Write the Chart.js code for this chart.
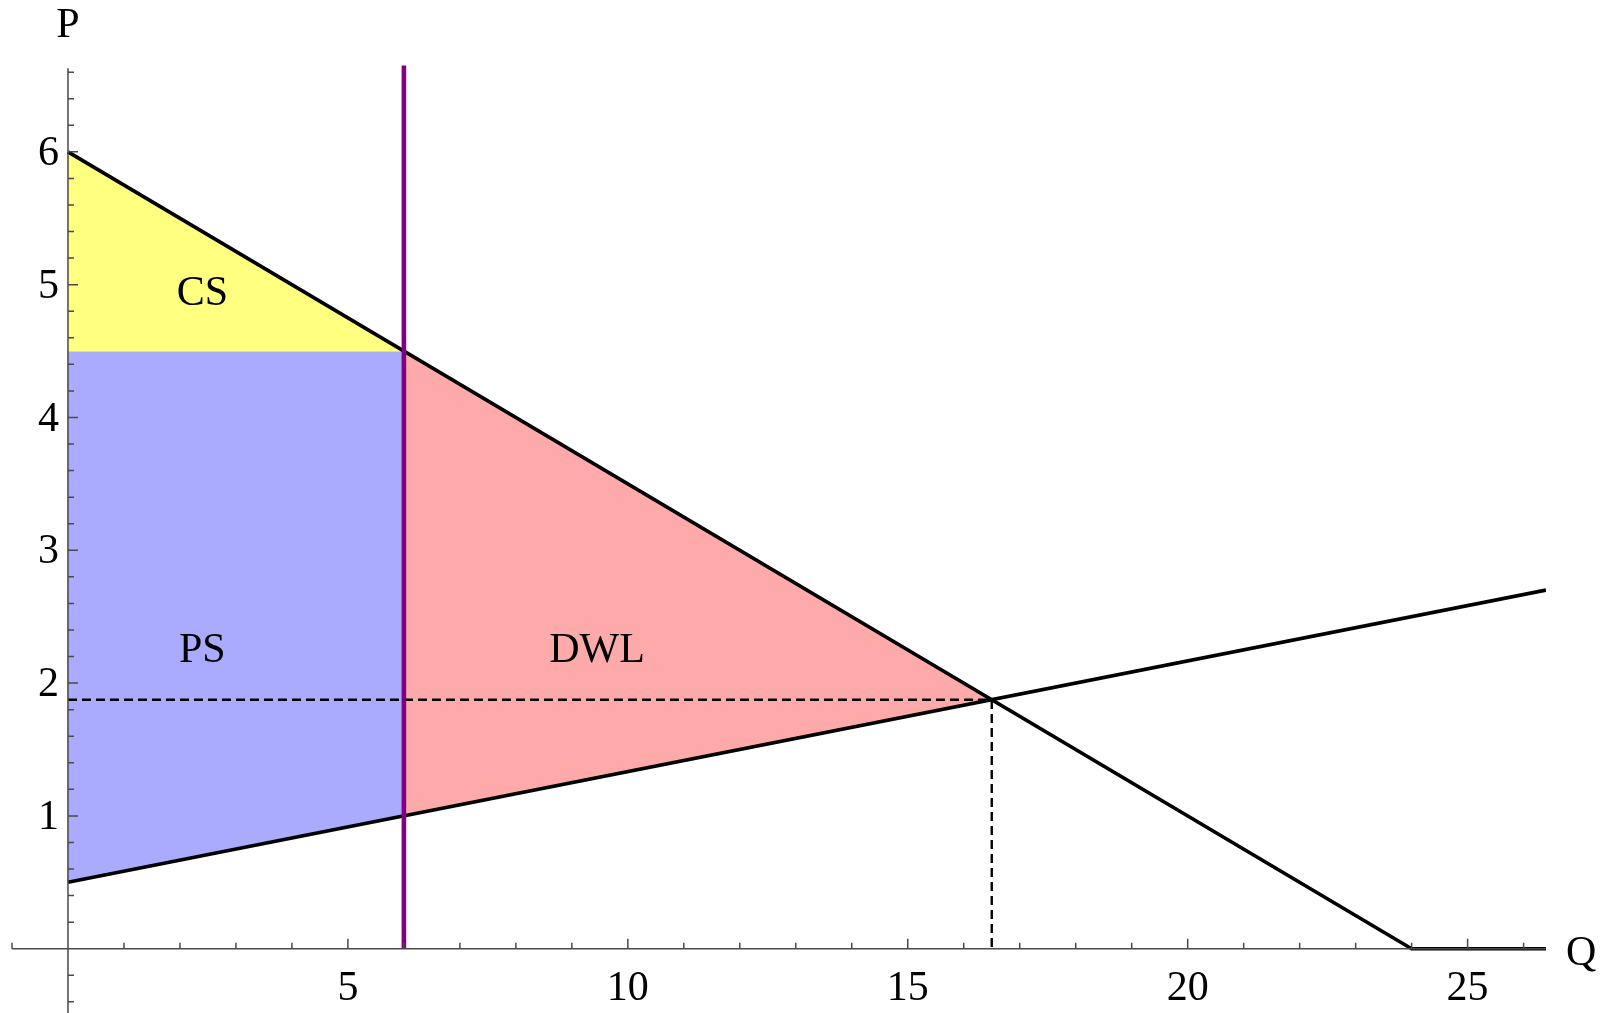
<!DOCTYPE html>
<html lang="en">
<head>
<meta charset="UTF-8">
<title>Quota and deadweight loss</title>
<script src="https://cdn.jsdelivr.net/npm/chart.js"></script>
<style>
  body { margin: 0; background: #fff; }
  #wrap { position: relative; width: 1601px; height: 1013px; }
</style>
</head>
<body>
<div id="wrap"><canvas id="chart"></canvas></div>
<script>
// demand and supply curves
const demandQ = [0, 24, 26.4];
const demandP = [6, 0, 0];
const supplyQ = [0, 26.4];
const supplyP = [0.5, 2.7];

// quota line and the free market equilibrium
const quotaQ = [6, 6];
const quotaP = [0, 6.65];
const eqQ = [0, 16.5, 16.5];
const eqP = [1.875, 1.875, 0];

// shaded areas (closed polygons)
const csQ = [0, 6, 0, 0];
const csP = [6, 4.5, 4.5, 6];
const psQ = [0, 6, 6, 0, 0];
const psP = [4.5, 4.5, 1, 0.5, 4.5];
const dwlQ = [6, 16.5, 6, 6];
const dwlP = [4.5, 1.875, 1, 4.5];

// area labels
const areaNames = ['CS', 'PS', 'DWL'];
const areaQ = [2.4, 2.4, 9.45];
const areaP = [4.93, 2.24, 2.24];

// axis labels
const xLabels = [5, 10, 15, 20, 25];
const yLabels = [1, 2, 3, 4, 5, 6];

const pts = (qs, ps) => qs.map((q, i) => ({ x: q, y: ps[i] }));

function area(qs, ps, color) {
    return {
        data: pts(qs, ps),
        showLine: true,
        fill: 'shape',
        backgroundColor: color,
        borderColor: color,
        borderWidth: 1,
        pointRadius: 0,
        order: 5
    };
}

function curve(qs, ps, color, width, dash, order) {
    return {
        data: pts(qs, ps),
        showLine: true,
        fill: false,
        borderColor: color,
        borderWidth: width,
        borderDash: dash,
        pointRadius: 0,
        order: order
    };
}

// Mathematica style axes crossing at the origin
const axesPlugin = {
    id: 'axes',
    afterDatasetsDraw(chart) {
        const ctx = chart.ctx;
        const xs = chart.scales.x;
        const ys = chart.scales.y;
        const x0 = xs.getPixelForValue(0);
        const y0 = ys.getPixelForValue(0);
        ctx.save();
        ctx.strokeStyle = '#4a4a4a';
        ctx.lineWidth = 1.5;
        ctx.beginPath();
        ctx.moveTo(xs.getPixelForValue(xs.min), y0);
        ctx.lineTo(xs.getPixelForValue(xs.max), y0);
        ctx.moveTo(x0, ys.getPixelForValue(ys.min));
        ctx.lineTo(x0, ys.getPixelForValue(6.63));
        // x ticks every 1, longer at the labelled ones
        for (let q = -1; q <= 26; q++) {
            if (q === 0) continue;
            const px = xs.getPixelForValue(q);
            const len = xLabels.includes(q) ? 10 : 6;
            ctx.moveTo(px, y0);
            ctx.lineTo(px, y0 - len);
        }
        // y ticks every 0.2
        for (let k = -2; k <= 33; k++) {
            if (k === 0) continue;
            const py = ys.getPixelForValue(k / 5);
            const len = k % 5 === 0 ? 10 : 6;
            ctx.moveTo(x0, py);
            ctx.lineTo(x0 + len, py);
        }
        ctx.stroke();

        ctx.fillStyle = '#000';
        ctx.font = '42px "Liberation Serif", serif';
        ctx.textAlign = 'center';
        ctx.textBaseline = 'middle';
        xLabels.forEach(v => ctx.fillText(String(v), xs.getPixelForValue(v), y0 + 40));
        ctx.textAlign = 'right';
        yLabels.forEach(v => ctx.fillText(String(v), x0 - 9, ys.getPixelForValue(v) + 2));

        ctx.textAlign = 'center';
        ctx.fillText('P', x0, 26);
        ctx.textAlign = 'left';
        ctx.fillText('Q', xs.getPixelForValue(xs.max) + 20, y0 + 5);

        ctx.textAlign = 'center';
        areaNames.forEach((name, i) => {
            ctx.fillText(name, xs.getPixelForValue(areaQ[i]), ys.getPixelForValue(areaP[i]));
        });
        ctx.restore();
    }
};

new Chart(document.getElementById('chart'), {
    type: 'scatter',
    data: {
        datasets: [
            curve(quotaQ, quotaP, '#800080', 4.6, [], 0),
            curve(demandQ, demandP, '#000', 3.6, [], 1),
            curve(supplyQ, supplyP, '#000', 3.6, [], 1),
            curve(eqQ, eqP, '#000', 2.4, [9, 5], 2),
            area(csQ, csP, '#ffff80'),
            area(psQ, psP, '#aaaaff'),
            area(dwlQ, dwlP, '#ffaaaa')
        ]
    },
    options: {
        responsive: true,
        maintainAspectRatio: false,
        animation: false,
        events: [],
        layout: { padding: { left: 12, right: 55, top: 65, bottom: 0 } },
        plugins: { legend: { display: false }, tooltip: { enabled: false } },
        scales: {
            x: { type: 'linear', min: -1, max: 26.4, display: false },
            y: { type: 'linear', min: -0.484, max: 6.654, display: false }
        }
    },
    plugins: [axesPlugin]
});
</script>
</body>
</html>
